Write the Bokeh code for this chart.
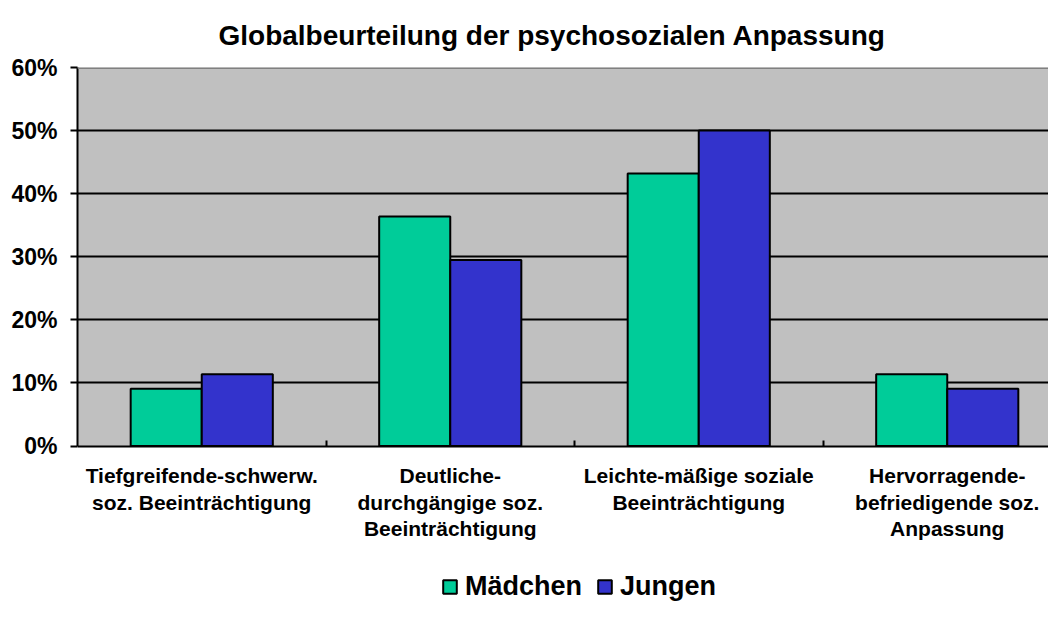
from bokeh.plotting import figure
from bokeh.models import (Range1d, FixedTicker, NumeralTickFormatter, Legend, LegendItem,
                          Title, ColumnDataSource, Span, LinearAxis, BoxAnnotation)
from bokeh.embed import file_html
from bokeh.resources import INLINE

# ---- data ----
categories = [
    "Tiefgreifende-schwerw.\nsoz. Beeinträchtigung",
    "Deutliche-\ndurchgängige soz.\nBeeinträchtigung",
    "Leichte-mäßige soziale\nBeeinträchtigung",
    "Hervorragende-\nbefriedigende soz.\nAnpassung",
]
maedchen = [0.091, 0.364, 0.432, 0.114]
jungen = [0.114, 0.295, 0.500, 0.091]
y_ticks = [0.0, 0.1, 0.2, 0.3, 0.4, 0.5, 0.6]
y_max = 0.6
series_names = ["Mädchen", "Jungen"]
colors = ["#00CC99", "#3333CC"]

FONT = "Liberation Sans"

centers = [i + 0.5 for i in range(len(categories))]
bw = 0.286
src_m = ColumnDataSource(dict(x=[c - bw / 2 for c in centers], top=maedchen))
src_j = ColumnDataSource(dict(x=[c + bw / 2 for c in centers], top=jungen))

W, H = 1048, 602
left, top = 77, 65
plot_h = 380          # pixel height of the 0..60% plot area
cat_px = 248.5        # pixel width of one category
frame_w = W - left
frame_h = H - top
y_min = -(frame_h - plot_h) * y_max / plot_h

p = figure(width=W, height=H,
           x_range=Range1d(0, frame_w / cat_px), y_range=Range1d(y_min, y_max),
           output_backend="svg", toolbar_location=None, x_axis_location=None,
           min_border_left=left, min_border_right=0, min_border_top=top,
           min_border_bottom=0)

p.background_fill_color = "white"
p.border_fill_color = "white"
p.outline_line_color = None

# plot area (gray)
area = BoxAnnotation(bottom=0, top=y_max, fill_color="#C0C0C0", fill_alpha=1,
                     line_color=None, level="image")
p.add_layout(area)

r_m = p.vbar(x="x", top="top", width=bw, bottom=0, source=src_m,
             fill_color=colors[0], line_color="black", line_width=2)
r_j = p.vbar(x="x", top="top", width=bw, bottom=0, source=src_j,
             fill_color=colors[1], line_color="black", line_width=2)

# grid
p.xgrid.visible = False
p.ygrid.ticker = FixedTicker(ticks=[0.1, 0.2, 0.3, 0.4, 0.5])
p.ygrid.grid_line_color = "black"
p.ygrid.grid_line_width = 2
p.ygrid.level = "underlay"
p.add_layout(Span(location=y_max, dimension="width", line_color="#808080", line_width=3))

# y axis
ya = p.yaxis[0]
ya.ticker = FixedTicker(ticks=y_ticks)
ya.bounds = (0, y_max)
ya.formatter = NumeralTickFormatter(format="0%")
ya.axis_line_color = "black"
ya.axis_line_width = 2
ya.major_tick_line_width = 2
ya.major_tick_out = 7
ya.major_tick_in = 0
ya.minor_tick_line_color = None
ya.major_label_text_font = FONT
ya.major_label_text_font_style = "bold"
ya.major_label_text_font_size = "23px"
ya.major_label_text_color = "black"
ya.major_label_standoff = 13

# x axis at y = 0
xa = LinearAxis(fixed_location=0)
xa.ticker = FixedTicker(ticks=centers, minor_ticks=[1, 2, 3])
xa.major_label_overrides = {c: lab for c, lab in zip(centers, categories)}
xa.axis_line_color = "black"
xa.axis_line_width = 2
xa.major_tick_line_color = None
xa.minor_tick_line_color = "black"
xa.minor_tick_line_width = 2
xa.minor_tick_in = 6
xa.minor_tick_out = 0
xa.major_label_text_font = FONT
xa.major_label_text_font_style = "bold"
xa.major_label_text_font_size = "21px"
xa.major_label_text_color = "black"
xa.major_label_standoff = 12
xa.major_label_text_line_height = 1.15
p.add_layout(xa, "below")

# title
t = Title(text="Globalbeurteilung der psychosozialen Anpassung", align="left",
          text_font=FONT, text_font_style="bold", text_font_size="28px",
          text_color="black", standoff=34, offset=141)
p.add_layout(t, "above")

# legend
legend = Legend(items=[LegendItem(label=series_names[0], renderers=[r_m]),
                       LegendItem(label=series_names[1], renderers=[r_j])],
                orientation="horizontal", location=(364, 0),
                label_text_font=FONT, label_text_font_style="bold",
                label_text_font_size="27px", label_text_color="black",
                glyph_width=17, glyph_height=17, label_standoff=7, spacing=14,
                padding=0, margin=0, border_line_color=None,
                background_fill_alpha=0)
p.add_layout(legend, "center")

open("out.html", "w").write(file_html(p, INLINE))
